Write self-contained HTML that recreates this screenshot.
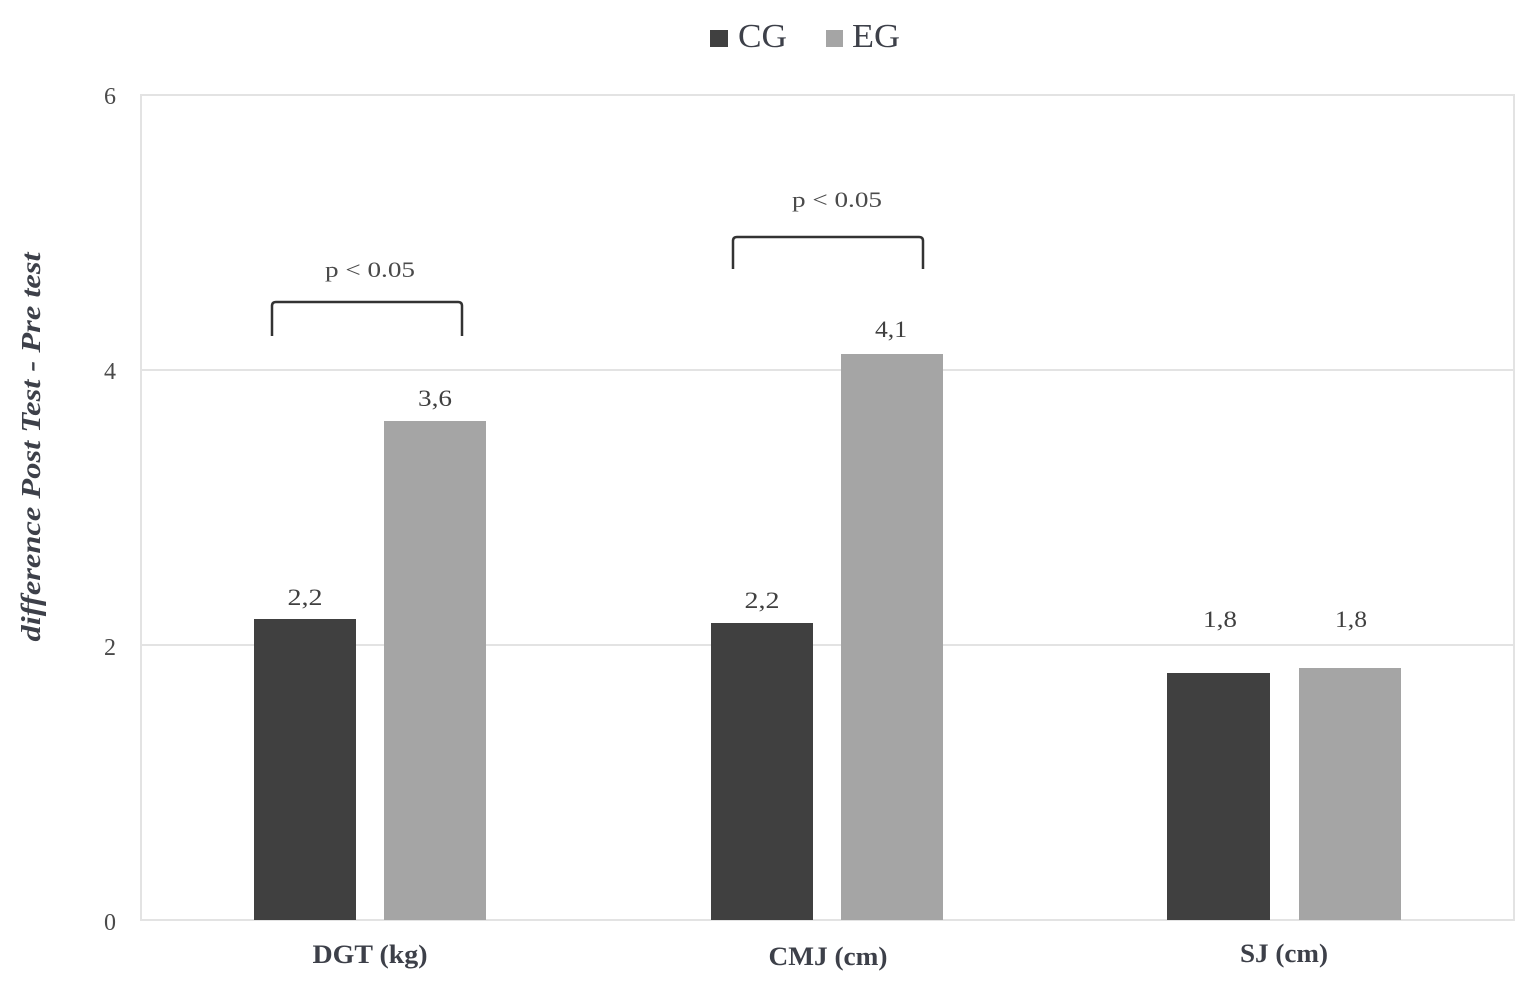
<!DOCTYPE html>
<html>
<head>
<meta charset="utf-8">
<style>
html,body{margin:0;padding:0;background:#fff;}
svg{display:block;}
text{font-family:"Liberation Serif","Times New Roman",serif;}
</style>
</head>
<body>
<svg width="1537" height="995" viewBox="0 0 1537 995" xmlns="http://www.w3.org/2000/svg">
  <rect x="0" y="0" width="1537" height="995" fill="#ffffff"/>

  <!-- Legend -->
  <rect x="710" y="30" width="18" height="17" fill="#404040"/>
  <text x="738" y="47" font-size="34" fill="#3d4049" textLength="49" lengthAdjust="spacingAndGlyphs">CG</text>
  <rect x="826" y="30" width="17" height="17" fill="#a5a5a5"/>
  <text x="852" y="47" font-size="34" fill="#3d4049" textLength="48" lengthAdjust="spacingAndGlyphs">EG</text>

  <!-- Plot area border -->
  <rect x="141" y="95" width="1373" height="825" fill="none" stroke="#e3e3e3" stroke-width="2"/>
  <!-- gridlines -->
  <line x1="141" y1="370" x2="1514" y2="370" stroke="#e3e3e3" stroke-width="2"/>
  <line x1="141" y1="645" x2="1514" y2="645" stroke="#e3e3e3" stroke-width="2"/>

  <!-- Y tick labels -->
  <g font-size="24" fill="#4a4a4a" text-anchor="middle">
    <text x="110" y="104">6</text>
    <text x="110" y="379">4</text>
    <text x="110" y="655">2</text>
    <text x="110" y="930">0</text>
  </g>

  <!-- Y axis title -->
  <text transform="translate(40,447) rotate(-90)" text-anchor="middle" font-size="27" font-weight="bold" font-style="italic" fill="#3d4049" textLength="389" lengthAdjust="spacingAndGlyphs">difference  Post  Test  -  Pre  test</text>

  <!-- Bars -->
  <rect x="254" y="619" width="102" height="301" fill="#404040"/>
  <rect x="384" y="421" width="102" height="499" fill="#a5a5a5"/>
  <rect x="711" y="623" width="102" height="297" fill="#404040"/>
  <rect x="841" y="354" width="102" height="566" fill="#a5a5a5"/>
  <rect x="1167" y="673" width="103" height="247" fill="#404040"/>
  <rect x="1299" y="668" width="102" height="252" fill="#a5a5a5"/>

  <!-- Value labels -->
  <g font-size="23" fill="#404040" text-anchor="middle">
    <text x="305" y="605" textLength="35" lengthAdjust="spacingAndGlyphs">2,2</text>
    <text x="435" y="406" textLength="34" lengthAdjust="spacingAndGlyphs">3,6</text>
    <text x="762" y="608" textLength="35" lengthAdjust="spacingAndGlyphs">2,2</text>
    <text x="891" y="337" textLength="32" lengthAdjust="spacingAndGlyphs">4,1</text>
    <text x="1220" y="627" textLength="34" lengthAdjust="spacingAndGlyphs">1,8</text>
    <text x="1351" y="627" textLength="32" lengthAdjust="spacingAndGlyphs">1,8</text>
  </g>

  <!-- Significance brackets -->
  <path d="M272,336 L272,306 Q272,302 276,302 L458,302 Q462,302 462,306 L462,336" fill="none" stroke="#333333" stroke-width="2.5"/>
  <path d="M733,269 L733,241 Q733,237 737,237 L919,237 Q923,237 923,241 L923,269" fill="none" stroke="#333333" stroke-width="2.5"/>
  <g font-size="22" fill="#4a4a4a" text-anchor="middle">
    <text x="370" y="277" textLength="90" lengthAdjust="spacingAndGlyphs">p &lt; 0.05</text>
    <text x="837" y="207" textLength="90" lengthAdjust="spacingAndGlyphs">p &lt; 0.05</text>
  </g>

  <!-- X category labels -->
  <g font-size="26" font-weight="bold" fill="#3d4049" text-anchor="middle">
    <text x="370" y="963" textLength="115" lengthAdjust="spacingAndGlyphs">DGT (kg)</text>
    <text x="828" y="965" textLength="119" lengthAdjust="spacingAndGlyphs">CMJ (cm)</text>
    <text x="1284" y="962" textLength="88" lengthAdjust="spacingAndGlyphs">SJ (cm)</text>
  </g>
</svg>
</body>
</html>
